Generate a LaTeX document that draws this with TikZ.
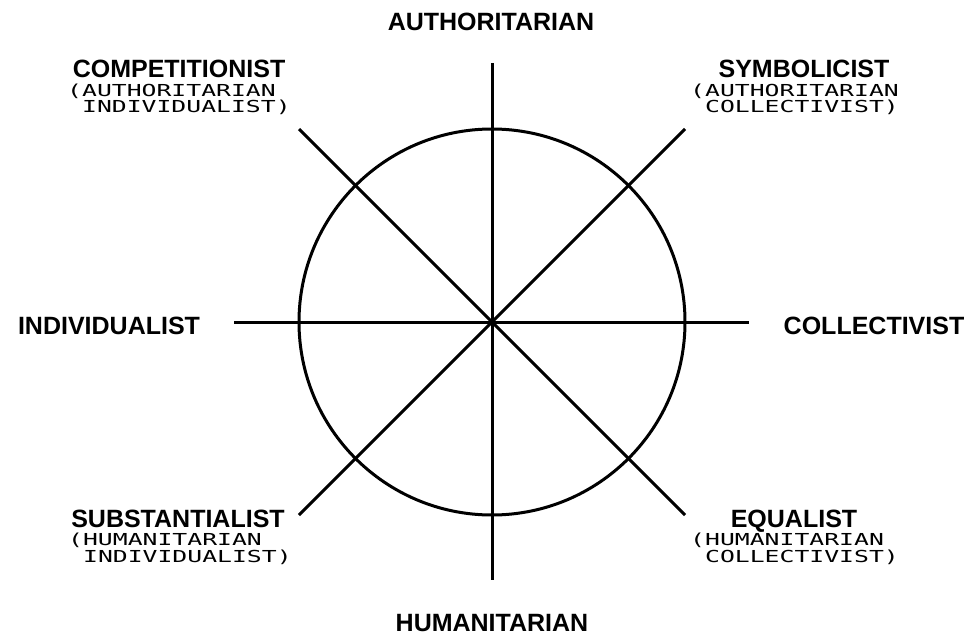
\documentclass[tikz,border=0pt]{standalone}
\usepackage{fontspec}
\setmainfont{Liberation Sans}
\newfontfamily\subfont[FakeStretch=1.5]{DejaVu Sans Mono}
\tikzset{
  axis/.style={line width=3pt, line cap=butt},
  big/.style={font=\fontsize{25}{25}\selectfont\bfseries, inner sep=0pt, anchor=base, text height=18pt, text depth=0pt},
  small/.style={font=\subfont\fontsize{16.5}{16.5}\selectfont, inner sep=0pt, anchor=base west, text height=12pt, text depth=1pt},
}
\begin{document}
\begin{tikzpicture}[x=1pt,y=1pt]
\useasboundingbox (0,0) rectangle (974,-639);
\coordinate (O) at (492,-322);
\coordinate (N) at (492,-63);
\coordinate (S) at (492,-580);
\coordinate (W) at (234,-322);
\coordinate (E) at (749,-322);
\coordinate (NW) at (299,-129);
\coordinate (NE) at (685,-129);
\coordinate (SW) at (299,-515);
\coordinate (SE) at (685,-515);
\draw[axis] (O) circle[radius=193pt];
\draw[axis] (N) -- (S);
\draw[axis] (W) -- (E);
\draw[axis] (NW) -- (SE);
\draw[axis] (NE) -- (SW);

\node[big] (auth) at (491,-31) {AUTHORITARIAN};
\node[big] (hum) at (492,-631) {HUMANITARIAN};
\node[big] (ind) at (109,-334) {INDIVIDUALIST};
\node[big] (col) at (874,-334) {COLLECTIVIST};

\node[big] (comp) at (179,-78) {COMPETITIONIST};
\node[small] (compa) at (67,-97) {(AUTHORITARIAN};
\node[small] (compb) at (67,-113) {\phantom{(}INDIVIDUALIST)};

\node[big] (sym) at (804,-78) {SYMBOLICIST};
\node[small] (syma) at (690,-97) {(AUTHORITARIAN};
\node[small] (symb) at (690,-113) {\phantom{(}COLLECTIVIST)};

\node[big] (sub) at (178,-527) {SUBSTANTIALIST};
\node[small] (suba) at (68,-545) {(HUMANITARIAN};
\node[small] (subb) at (68,-562) {\phantom{(}INDIVIDUALIST)};

\node[big] (equ) at (794,-527) {EQUALIST};
\node[small] (equa) at (690,-545) {(HUMANITARIAN};
\node[small] (equb) at (690,-562) {\phantom{(}COLLECTIVIST)};
\end{tikzpicture}
\end{document}
